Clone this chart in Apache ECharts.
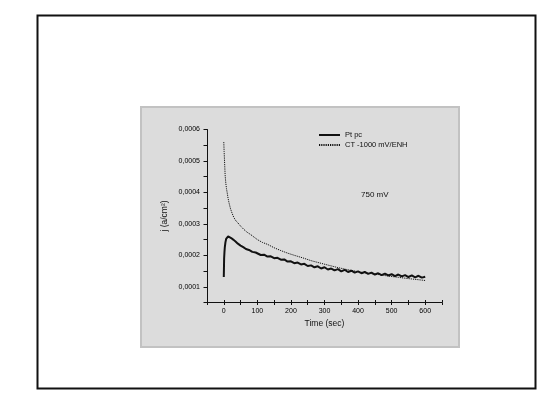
<!DOCTYPE html>
<html>
<head>
<meta charset="utf-8">
<script src="https://cdn.jsdelivr.net/npm/echarts@6/dist/echarts.min.js"></script>
<style>
html,body{margin:0;padding:0;background:#fff;}
#c{width:560px;height:405px;}
</style>
</head>
<body>
<div id="c"></div>
<script>
// ---- data ----
var seriesNames = ['Pt pc', 'CT -1000 mV/ENH'];
var annotation = '750 mV';
var xTitle = 'Time (sec)';
var yTitle = 'j (a/cm\u00B2)';

var tPt = [0, 0.5, 1, 2, 3, 5, 7, 10, 13, 17, 22, 28, 35, 42, 50, 58, 66, 75, 85, 95,
  100, 110, 120, 130, 140, 150, 160, 170, 180, 190, 200, 210, 220, 230, 240, 250, 260, 270, 280, 290,
  300, 310, 320, 330, 340, 350, 360, 370, 380, 390, 400, 410, 420, 430, 440, 450, 460, 470, 480, 490,
  500, 510, 520, 530, 540, 550, 560, 570, 580, 590, 600];
var jPt = [1.31e-4, 1.60e-4, 1.90e-4, 2.10e-4, 2.25e-4, 2.42e-4, 2.52e-4, 2.58e-4, 2.60e-4, 2.59e-4,
  2.55e-4, 2.50e-4, 2.44e-4, 2.37e-4, 2.31e-4, 2.26e-4, 2.20e-4, 2.17e-4, 2.11e-4, 2.09e-4,
  2.07e-4, 2.01e-4, 2.02e-4, 1.96e-4, 1.97e-4, 1.91e-4, 1.92e-4, 1.86e-4, 1.87e-4, 1.80e-4,
  1.81e-4, 1.75e-4, 1.77e-4, 1.71e-4, 1.73e-4, 1.66e-4, 1.68e-4, 1.62e-4, 1.65e-4, 1.58e-4,
  1.62e-4, 1.55e-4, 1.58e-4, 1.52e-4, 1.56e-4, 1.49e-4, 1.54e-4, 1.47e-4, 1.51e-4, 1.45e-4,
  1.49e-4, 1.43e-4, 1.47e-4, 1.41e-4, 1.45e-4, 1.39e-4, 1.43e-4, 1.37e-4, 1.42e-4, 1.36e-4,
  1.40e-4, 1.34e-4, 1.39e-4, 1.33e-4, 1.37e-4, 1.31e-4, 1.36e-4, 1.30e-4, 1.35e-4, 1.29e-4, 1.32e-4];

var tCT = [0, 1, 2, 3, 4, 6, 8, 10, 13, 16, 20, 25, 30, 36, 42, 50, 60, 70, 80, 90,
  100, 115, 130, 150, 170, 190, 210, 235, 260, 285, 310, 340, 370, 400, 430, 460, 490, 520, 550, 575, 600];
var jCT = [5.60e-4, 5.30e-4, 5.05e-4, 4.80e-4, 4.55e-4, 4.30e-4, 4.12e-4, 4.00e-4, 3.80e-4, 3.65e-4,
  3.48e-4, 3.33e-4, 3.20e-4, 3.10e-4, 3.03e-4, 2.93e-4, 2.82e-4, 2.73e-4, 2.66e-4, 2.58e-4,
  2.50e-4, 2.41e-4, 2.35e-4, 2.24e-4, 2.15e-4, 2.07e-4, 2.00e-4, 1.92e-4, 1.83e-4, 1.76e-4,
  1.69e-4, 1.61e-4, 1.54e-4, 1.48e-4, 1.43e-4, 1.39e-4, 1.34e-4, 1.30e-4, 1.26e-4, 1.23e-4, 1.20e-4];

var xMin = -50, xMax = 650, xStep = 50;
var yMin = 0.00005, yMax = 0.0006, yStep = 0.00005;

// ---- chart ----
function pairs(t, v) { return t.map(function (x, i) { return [x, v[i]]; }); }
var FONT = '"Liberation Sans", Arial, sans-serif';
var INK = '#111111';

var chart = echarts.init(document.getElementById('c'), null, { renderer: 'canvas' });
chart.setOption({
  animation: false,
  backgroundColor: '#ffffff',
  textStyle: { fontFamily: FONT },
  graphic: [
    { type: 'rect', z: -20, silent: true,
      shape: { x: 37.5, y: 15.5, width: 498, height: 373 },
      style: { fill: '#ffffff', stroke: '#111111', lineWidth: 2 } },
    { type: 'rect', z: -10, silent: true,
      shape: { x: 141, y: 107, width: 318, height: 240 },
      style: { fill: '#dcdcdc', stroke: '#c2c2c2', lineWidth: 2 } },
    { type: 'text', z: 10, silent: true, left: 361, top: 190.5,
      style: { text: annotation, fill: INK, font: '8px ' + FONT } }
  ],
  legend: {
    orient: 'vertical', left: 318, top: 131, padding: 0,
    itemWidth: 21, itemHeight: 8, itemGap: 2,
    itemStyle: { opacity: 0 },
    textStyle: { fontSize: 7.5, color: INK, fontFamily: FONT },
    data: seriesNames
  },
  grid: { left: 207, top: 129.5, right: 118, bottom: 102.5, containLabel: false },
  xAxis: [{
    type: 'value', min: xMin, max: xMax, interval: xStep,
    name: xTitle, nameLocation: 'middle', nameGap: 17,
    nameTextStyle: { fontSize: 8.5, color: INK, fontFamily: FONT },
    axisLine: { show: true, onZero: false, lineStyle: { color: INK, width: 1 } },
    axisTick: { show: true, inside: false, length: 2.5, lineStyle: { color: INK } },
    axisLabel: {
      fontSize: 7, color: '#000', margin: 5, fontFamily: FONT,
      formatter: function (v) { return (v >= 0 && v <= 600 && v % 100 === 0) ? String(v) : ''; }
    },
    splitLine: { show: false }
  }, {
    type: 'value', min: xMin, max: xMax, interval: xStep, position: 'bottom', gridIndex: 0,
    axisLine: { show: false },
    axisTick: { show: true, inside: true, length: 2.5, lineStyle: { color: INK } },
    axisLabel: { show: false }, splitLine: { show: false }
  }],
  yAxis: {
    type: 'value', min: yMin, max: yMax, interval: yStep,
    name: yTitle, nameLocation: 'middle', nameGap: 38, nameRotate: 90,
    nameTextStyle: { fontSize: 8.5, color: INK, fontFamily: FONT },
    axisLine: { show: true, onZero: false, lineStyle: { color: INK, width: 1 } },
    axisTick: { show: true, inside: false, length: 3.5, lineStyle: { color: INK } },
    axisLabel: {
      fontSize: 7, color: '#000', margin: 7, fontFamily: FONT,
      formatter: function (v) {
        var k = Math.round(v * 1e5);
        return (k % 10 === 0) ? (k / 1e5).toFixed(4).replace('.', ',') : '';
      }
    },
    splitLine: { show: false }
  },
  series: [{
    name: seriesNames[0], type: 'line', xAxisIndex: 0, symbol: 'none', smooth: false,
    lineStyle: { color: '#111111', width: 2 }, itemStyle: { color: '#111111' },
    data: pairs(tPt, jPt)
  }, {
    name: seriesNames[1], type: 'line', xAxisIndex: 0, symbol: 'none', smooth: false,
    lineStyle: { color: '#111111', width: 1, type: [1.2, 1] }, itemStyle: { color: '#111111' },
    data: pairs(tCT, jCT)
  }]
});
</script>
</body>
</html>
